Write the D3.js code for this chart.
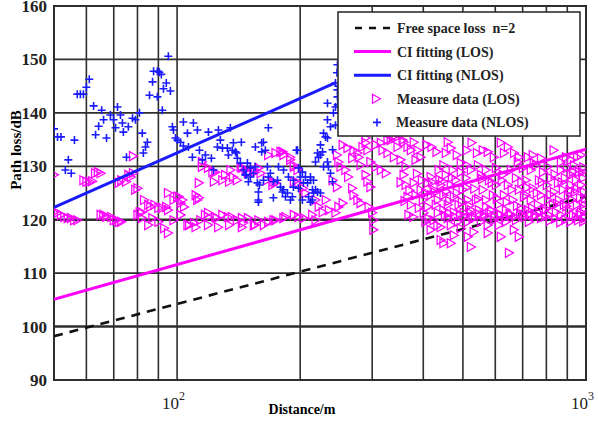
<!DOCTYPE html>
<html>
<head>
<meta charset="utf-8">
<script src="https://cdn.jsdelivr.net/npm/d3@7"></script>
<style>
body { margin: 0; background: #fff; }
text { font-family: "Liberation Serif", "Times New Roman", serif; white-space: pre; }
</style>
</head>
<body>
<div id="chart"></div>
<script>
// distance (m) grid lines and path loss (dB) ticks
var distGrid = [60, 70, 80, 90, 100, 200, 300, 400, 500, 600, 700, 800, 900];
var lossTicks = [90, 100, 110, 120, 130, 140, 150, 160];

// fitted lines, [distance, loss] at the two ends
var fsplLine = [[50, 98.2], [1000, 124.3]];
var ciLosLine = [[50, 105.1], [1000, 133.2]];
var ciNlosLine = [[50, 122.3], [245, 145.7]];

// measured NLOS points [distance, loss]
var nlosData = [[50,137.0],[51,135.5],[52,135.5],[54.2,131.2],[53.3,129.3],[55.1,128.7],[56.1,134.9],[57,143.5],[58,143.5],[59,143.5],[60,144.8],[61,146.3],[62.5,141.3],[63.2,135.9],[64.3,137.5],[65.4,140.5],[66.1,138.7],[67.2,135.3],[68.7,139.6],[69.9,138.7],[71.5,141.1],[70.7,137.2],[72.7,139.6],[73.5,138.1],[73.9,136.4],[75.2,131.7],[76,137.4],[77.8,139.0],[79.1,138.7],[80.9,140.0],[82.2,136.2],[82.7,132.5],[84.6,134.5],[83.7,133.6],[85.6,143.3],[87.1,145.8],[87.6,147.8],[89.5,147.8],[89.5,143.0],[90.5,147.6],[91.5,147.2],[92,140.5],[92.6,144.5],[94.1,145.6],[95.2,150.6],[96.3,144.1],[97.4,137.4],[98,136.8],[99.1,135.3],[100.2,134.9],[101.9,134.5],[103.6,133.8],[103.6,138.3],[106,136.2],[106.6,133.6],[109,131.7],[109.6,138.1],[112.1,136.8],[113.4,133.0],[115.3,131.2],[117.3,132.1],[119.3,136.4],[121.3,131.5],[122.7,129.3],[125.5,133.6],[126.2,136.8],[127.6,134.9],[129.1,133.4],[132.7,133.4],[133.5,132.1],[135,137.2],[137.3,134.4],[138.9,132.7],[140.4,131.5],[142.8,130.6],[145.3,129.3],[147.7,128.4],[149.4,127.1],[153.7,128.7],[157.2,126.9],[158.1,123.3],[162.6,134.5],[164.4,133.0],[167.2,137.2],[169.1,128.7],[172,127.1],[176,127.4],[179,126.1],[181,125.2],[184.1,124.3],[186.2,125.0],[189.3,123.7],[192.5,126.1],[195.8,133.0],[143.6,134.5],[161,134.4],[155.4,133.6],[161,132.7],[197,133.0],[136.5,133.0],[139.7,132.5],[148.6,130.6],[151.1,129.7],[155.4,129.9],[166.3,129.9],[177,129.9],[182.1,129.3],[146.9,128.4],[151.1,128.0],[162.6,127.4],[167.2,128.0],[187.2,128.0],[192.5,127.4],[202.5,128.9],[206,128.0],[159,126.5],[158.1,125.2],[172,124.1],[182.1,125.6],[191.4,124.3],[198.1,125.9],[203.7,126.9],[211.9,127.4],[214.3,125.6],[215.6,125.0],[220.5,125.2],[221.7,131.7],[226.8,132.7],[228.1,136.2],[230.6,135.5],[233.2,138.7],[237.2,137.4],[241.2,140.0],[237.2,128.7],[239.9,127.1],[234.5,129.9],[202.5,123.7],[214.3,123.7],[158.1,123.7],[233.2,141.8],[244,141.1],[244,137.7],[233.2,135.3],[224.2,134.0],[220.5,132.5],[224.2,132.1],[218,130.8],[233.2,130.8],[228.1,129.9],[211.9,128.0],[215.6,127.4],[208.4,126.9],[218,125.6],[224.2,125.0],[209.6,124.3],[211.9,123.3],[198.1,129.7],[200.3,128.0],[246.7,149.0],[244,145.6],[246.7,144.3],[246.7,143.0],[246,147.5],[248,145.0],[240,133.1],[247,141.5]];

// measured LOS points [distance, loss]
var losData = [[50,128.4],[50,121.4],[51,121.3],[52,120.9],[53,120.5],[54,120.3],[55,120.3],[56,119.9],[57,119.9],[59,127.4],[60,127.1],[61,127.1],[62,127.2],[63,128.7],[64,128.9],[65,128.7],[65,120.9],[66,120.9],[67,120.7],[67,120.5],[69,120.5],[70,119.9],[71,119.9],[72,119.6],[73,119.6],[72,126.9],[73,127.4],[75,127.1],[76,128.4],[77,128.0],[78,128.7],[78,131.9],[79,125.6],[80,125.9],
[80,120.9],[81,121.4],[82,120.3],[82,121.4],[83,123.7],[85,122.8],[85,119.0],[86,122.4],[87,120.3],[88,122.8],[90,122.2],[90,119.6],[92,122.2],[93,118.4],[94,122.4],[95,117.5],[95,121.8],[95,125.0],[98,123.7],[98,119.9],[100,124.3],[102,120.9],[103,123.7],[101,124.3],[102,123.1],[104,122.4],[106,119.0],[107,119.0],[110,119.4],[111,124.6],[112,123.7],[113,124.1],[111,118.6],[113,126.9],
[114,119.9],[115,130.8],[115,129.9],[117,120.9],[119,129.7],[119,120.5],[119,121.3],[119,119.0],[122,128.9],[123,127.1],[124,128.9],[124,120.5],[125,120.3],[126,118.6],[129,127.4],[129,120.9],[131,128.4],[133,120.5],[134,127.1],[134,119.0],[135,129.3],[136,120.5],[137,128.0],[140,127.4],[140,119.9],[143,129.9],[144,129.7],[144,120.3],[144,118.6],[145,119.4],[147,129.3],[149,128.9],[149,128.7],[149,120.3],[154,129.3],[154,119.0],[155,128.9],[155,119.0],[158,129.7],[158,119.9],[160,128.7],[163,119.0],[166,127.4],[167,132.1],[167,119.6],[171,126.5],[172,127.1],[172,119.9],[174,132.5],[174,126.9],[174,119.9],[179,132.7],[181,132.7],[182,132.1],[182,120.3],[184,120.5],[189,131.7],[189,131.2],[193,130.2],[193,129.9],[193,127.1],[193,120.9],[197,129.3],[198,126.9],[198,120.5],[203,125.9],[204,120.3],[206,125.0],
[214,120.9],[218,123.7],[218,119.9],[222,122.4],[227,121.4],[231,123.7],[235,121.8],[240,127.4],[244,121.3],[246,132.1],[246,126.1],[248,130.8],[248,122.4],[251,129.9],[254,134.0],[254,123.1],[258,129.3],[261,133.4],[262,128.0],[268,131.5],[268,125.9],[270,133.0],[270,124.6],[276,132.5],[276,123.7],[278,131.7],[281,130.2],[281,123.1],[284,133.6],[289,135.3],[289,134.4],[289,128.4],[292,133.0],[292,127.1],[294,122.4],[297,130.8],[297,126.1],[300,121.3],[302,119.9],[302,118.1],[306,134.0],[306,129.9],[315,134.4],[315,129.3],[318,133.0],[324,128.7],[327,134.9],[327,132.5],[333,134.9],[337,135.5],[339,131.7],[342,135.3],[346,133.6],[352,131.2],[356,134.9],
[358,134.5],[362,129.9],[366,133.6],[373,133.0],[379,134.5],[383,131.2],[387,133.0],[394,131.7],[407,134.0],[419,133.6],[431,132.7],[454,132.5],[459,134.5],[467,133.4],[483,132.1],[494,130.6],[511,133.0],[511,130.2],[525,134.4],[541,132.5],[559,133.0],[575,132.7],[595,131.7],[619,134.4],[630,132.5],[644,133.6],[667,132.5],[681,130.8],[685,131.7],[721,131.7],[741,132.1],[745,130.6],[776,131.5],[806,129.9],[833,133.0],[868,130.8],[893,131.7],[919,131.2],[951,131.7],[972,132.1],
[358,128.4],[362,126.5],[366,124.3],[373,122.8],[368,120.9],[379,126.9],[383,124.6],[390,122.2],[394,125.6],[399,123.7],[401,121.3],[405,119.6],[410,126.9],[410,122.4],[417,128.0],[417,124.6],[417,118.1],[424,125.6],[424,119.9],[429,122.8],[434,123.7],[434,121.3],[436,129.3],[441,126.5],[441,118.6],[441,116.2],
[448,130.2],[448,124.6],[448,121.8],[448,115.6],[454,128.4],[459,122.8],[459,120.3],[467,126.5],[467,119.0],[467,115.6],[472,129.3],[475,124.3],[475,121.4],[475,117.1],[480,127.4],[486,119.6],[488,122.8],[494,128.9],[494,118.4],[499,125.6],[502,121.3],[508,127.8],[514,123.7],[514,119.6],[514,116.8],[523,129.3],[523,121.8],[523,114.9],[528,120.3],[531,117.7],[538,123.7],
[544,130.2],[547,121.8],[553,128.4],[553,119.6],[559,125.6],[562,120.9],[569,129.3],[569,123.7],[575,119.0],[575,117.5],[579,127.4],[585,121.8],[592,124.6],[595,119.9],[602,129.7],[602,126.5],[609,122.8],[612,119.0],[619,120.9],[619,116.8],
[626,128.4],[630,124.6],[637,121.8],[637,119.6],[644,126.5],[648,113.8],[655,129.3],[655,120.9],[662,123.7],[666,118.1],[674,127.8],[674,119.9],[685,125.6],[685,116.8],[693,122.2],
[701,129.7],[701,120.9],[713,127.4],[713,124.6],[721,121.8],[725,119.6],[733,129.3],[733,123.7],[741,125.9],[754,120.9],[754,130.2],[763,122.8],[767,127.4],[776,124.6],[776,120.3],[785,128.9],[789,121.8],
[802,126.5],[807,123.7],[811,120.9],[821,127.8],[830,122.8],[835,125.2],[844,121.4],[854,126.9],[859,123.7],[868,129.3],[868,120.9],[878,125.6],[883,122.8],[888,127.8],
[898,129.7],[903,124.6],[908,121.8],[919,128.4],[919,126.5],[924,123.7],[929,120.9],[935,130.2],[940,125.2],[945,127.4],[950,122.8],[956,119.9],[961,128.9],[967,124.1],[972,126.5],[972,121.4],[983,127.8],[983,122.8],[989,125.2],[994,120.3],
[452,120.8],[462,121.2],[478,120.5],[492,121.0],[505,120.6],[520,121.3],[535,120.4],[548,121.0],[565,120.6],[580,121.2],[598,120.5],[615,121.0],[633,120.4],[650,121.1],[670,120.6],[690,121.2],[708,120.5],[728,121.0],[748,120.7],[770,121.2],[795,120.6],[815,119.8],[840,120.2],[865,119.5],[890,120.0],[915,119.6],[945,120.4],[965,121.0],[985,119.7],
[445,127.2],[455,125.3],[463,123.5],[470,127.9],[483,125.0],[497,123.3],[510,126.0],[518,122.6],[533,125.8],[545,123.9],[557,127.6],[570,122.4],[588,126.9],[605,124.0],[622,127.4],[640,123.3],[658,125.6],[678,122.6],[695,127.0],[705,124.3],[718,126.0],[738,122.2],[758,125.0],[780,127.0],[798,122.0],[818,124.7],[838,128.5],[850,123.0],[872,127.0],[895,122.5],[912,125.5],[930,129.0],[950,125.8],[978,128.9],[995,124.0],[985,129.8],[990,122.0],
[352,127.0],[360,123.5],[370,125.5],[378,120.5],[386,128.6],[397,127.4],[404,124.9],[412,120.2],[420,127.0],[427,125.1],[433,118.9],[438,127.5]];

var legendItems = [
    {label: 'Free space loss  n=2', kind: 'dash'},
    {label: 'CI fitting (LOS)', kind: 'los-line'},
    {label: 'CI fitting (NLOS)', kind: 'nlos-line'},
    {label: 'Measure data (LOS)', kind: 'los-mark'},
    {label: 'Measure data (NLOS)', kind: 'nlos-mark'}
];

var width = 598, height = 421;
var plotLeft = 54, plotRight = 586, plotTop = 6, plotBottom = 380;
var gridColor = '#2e2e2e';
var magenta = '#ff00ff';
var blue = '#1a1aff';

var svg = d3.select('#chart').append('svg')
    .attr('width', width)
    .attr('height', height);

var x = d3.scaleLog().domain([50, 1000]).range([plotLeft, plotRight]);
var y = d3.scaleLinear().domain([90, 160]).range([plotBottom, plotTop]);

svg.append('clipPath').attr('id', 'plotclip')
  .append('rect')
    .attr('x', plotLeft).attr('y', plotTop)
    .attr('width', plotRight - plotLeft).attr('height', plotBottom - plotTop);

// grid
svg.append('g').selectAll('line')
    .data(distGrid).enter().append('line')
    .attr('x1', d => x(d)).attr('x2', d => x(d))
    .attr('y1', plotTop).attr('y2', plotBottom)
    .style('stroke', gridColor).style('stroke-width', 1.6);

svg.append('g').selectAll('line')
    .data(lossTicks).enter().append('line')
    .attr('x1', plotLeft).attr('x2', plotRight)
    .attr('y1', d => y(d)).attr('y2', d => y(d))
    .style('stroke', gridColor).style('stroke-width', d => (d == 100 || d == 120) ? 2.6 : 1.8);

svg.append('rect')
    .attr('x', plotLeft).attr('y', plotTop)
    .attr('width', plotRight - plotLeft).attr('height', plotBottom - plotTop)
    .style('fill', 'none').style('stroke', gridColor).style('stroke-width', 2);

// y tick labels
svg.append('g').selectAll('text')
    .data(lossTicks).enter().append('text')
    .attr('x', 47).attr('y', d => y(d) + 6)
    .attr('text-anchor', 'end')
    .style('font-size', '17px')
    .style('font-weight', 'bold')
    .style('fill', '#222')
    .text(d => d);

// x decade labels
[100, 1000].forEach(function(v, i) {
    var t = svg.append('text')
        .attr('x', x(v) - 15).attr('y', 409)
        .style('font-size', '17px')
        .style('fill', '#222')
        .text('10');
    t.append('tspan')
        .attr('dy', -9).style('font-size', '12px')
        .text(i == 0 ? '2' : '3');
});

svg.append('text')
    .attr('x', 302).attr('y', 414)
    .attr('text-anchor', 'middle')
    .style('font-size', '14px').style('font-weight', 'bold')
    .text('Distance/m');

svg.append('text')
    .attr('transform', 'translate(21,150)rotate(-90)')
    .attr('text-anchor', 'middle')
    .style('font-size', '15px').style('font-weight', 'bold')
    .text('Path loss/dB');

var plot = svg.append('g').attr('clip-path', 'url(#plotclip)');

var line = d3.line().x(d => x(d[0])).y(d => y(d[1]));

plot.append('path')
    .datum(fsplLine)
    .attr('d', line)
    .style('fill', 'none').style('stroke', '#111')
    .style('stroke-width', 2.6).style('stroke-dasharray', '9,7');

var triPath = 'M-3.5,-4.5L4.5,0L-3.5,4.5Z';
var plusPath = 'M-4,0H4M0,-4V4';

plot.append('g').selectAll('path')
    .data(losData).enter().append('path')
    .attr('transform', d => `translate(${x(d[0])},${y(d[1])})`)
    .attr('d', triPath)
    .style('fill', 'none').style('stroke', magenta).style('stroke-width', 1.25);

plot.append('g').selectAll('path')
    .data(nlosData).enter().append('path')
    .attr('transform', d => `translate(${x(d[0])},${y(d[1])})`)
    .attr('d', plusPath)
    .style('fill', 'none').style('stroke', blue).style('stroke-width', 1.6);

plot.append('path')
    .datum(ciLosLine)
    .attr('d', line)
    .style('fill', 'none').style('stroke', magenta).style('stroke-width', 3);

plot.append('path')
    .datum(ciNlosLine)
    .attr('d', line)
    .style('fill', 'none').style('stroke', blue).style('stroke-width', 3);

// legend
var legend = svg.append('g').attr('transform', 'translate(338,12)');
legend.append('rect')
    .attr('width', 242).attr('height', 124)
    .style('fill', '#fff').style('stroke', gridColor).style('stroke-width', 1.6);

var rows = legend.selectAll('g.row')
    .data(legendItems).enter().append('g')
    .attr('transform', (d, i) => `translate(0,${16 + i * 23.6})`);

rows.each(function(d) {
    var g = d3.select(this);
    if (d.kind == 'dash') {
        g.append('line').attr('x1', 17).attr('x2', 54).attr('y1', 0).attr('y2', 0)
            .style('stroke', '#111').style('stroke-width', 2.6).style('stroke-dasharray', '7,7');
    } else if (d.kind == 'los-line' || d.kind == 'nlos-line') {
        g.append('line').attr('x1', 16).attr('x2', 53).attr('y1', 0).attr('y2', 0)
            .style('stroke', d.kind == 'los-line' ? magenta : blue).style('stroke-width', 3);
    } else if (d.kind == 'los-mark') {
        g.append('path').attr('transform', 'translate(38,0)').attr('d', triPath)
            .style('fill', 'none').style('stroke', magenta).style('stroke-width', 1.25);
    } else {
        g.append('path').attr('transform', 'translate(39,0)').attr('d', plusPath)
            .style('fill', 'none').style('stroke', blue).style('stroke-width', 1.6);
    }
    g.append('text')
        .attr('x', d.kind == 'nlos-mark' ? 58 : 59).attr('y', 5)
        .style('font-size', '14px').style('font-weight', 'bold')
        .style('fill', '#222')
        .text(d.label);
});
</script>
</body>
</html>
